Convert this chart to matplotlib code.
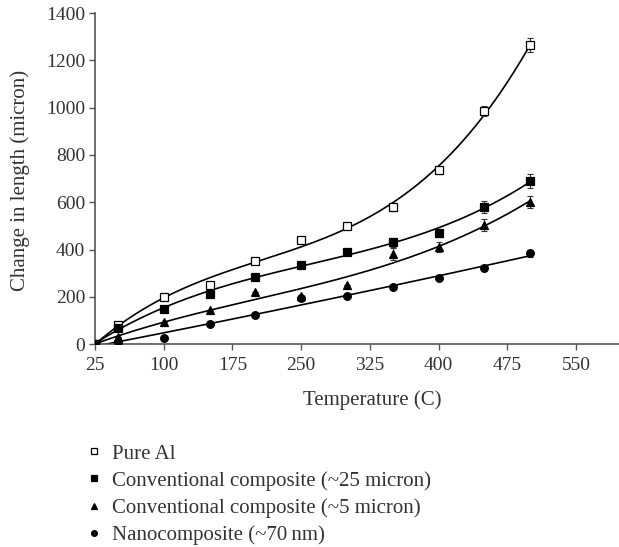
import numpy as np
from matplotlib import pyplot as plt

plt.rcParams['font.family'] = ['Liberation Serif', 'DejaVu Serif']

temps = [25, 50, 100, 150, 200, 250, 300, 350, 400, 450, 500]

pure_al = [0, 80, 200, 250, 350, 440, 500, 580, 735, 985, 1265]
conv_25 = [0, 70, 150, 210, 285, 335, 390, 430, 470, 580, 690]
conv_5 = [0, 30, 95, 145, 220, 205, 250, 380, 410, 505, 600]
nano = [0, 10, 25, 85, 125, 195, 205, 240, 280, 320, 385]

# error bars (only the visible ones at high temperature)
err_pure = [0, 0, 0, 0, 0, 0, 0, 15, 15, 20, 30]
err_c25 = [0, 0, 0, 0, 0, 0, 0, 20, 15, 25, 30]
err_c5 = [0, 0, 0, 0, 0, 0, 0, 25, 20, 25, 25]
err_nano = [0, 0, 0, 0, 0, 0, 0, 0, 5, 10, 15]

labels = ['Pure Al', 'Conventional composite (~25 micron)',
          'Conventional composite (~5 micron)', 'Nanocomposite (~70\u2009nm)']

series = [
    (pure_al, err_pure, 's', 'white', 3),
    (conv_25, err_c25, 's', 'black', 3),
    (conv_5, err_c5, '^', 'black', 3),
    (nano, err_nano, 'o', 'black', 2),
]

fig = plt.figure(figsize=(6.19, 5.47), dpi=100)
ax = fig.add_axes([0.1535, 0.371, 0.8465, 0.605])

handles = []
x = np.array(temps, dtype=float)
xs = np.linspace(25, 500, 200)
for (vals, errs, marker, face, deg), lab in zip(series, labels):
    # polynomial trend line through the data, as in the original
    coef = np.polyfit(x, vals, deg)
    ax.plot(xs, np.polyval(coef, xs), color='black', lw=1.2, zorder=2)
    ax.errorbar(x, vals, yerr=errs, fmt='none', ecolor='#333333',
                elinewidth=0.8, capsize=2.5, capthick=0.8, zorder=3)
    h, = ax.plot(x, vals, ls='none', marker=marker, markersize=5.5,
                 markerfacecolor=face, markeredgecolor='black',
                 markeredgewidth=0.9, zorder=4)
    handles.append(h)

ax.set_xlim(25, 597)
ax.set_ylim(0, 1400)
ax.set_xticks([25, 100, 175, 250, 325, 400, 475, 550])
ax.set_yticks(range(0, 1401, 200))
for s in ['top', 'right']:
    ax.spines[s].set_visible(False)
for s in ['left', 'bottom']:
    ax.spines[s].set_color('#555555')
    ax.spines[s].set_linewidth(1.2)
ax.tick_params(colors='#555555', labelcolor='#333333', labelsize=14,
               length=4, width=1)
ax.tick_params(axis='y', pad=3)
ax.tick_params(axis='x', pad=5)
ax.set_xlabel('Temperature (C)', fontsize=15, color='#333333')
ax.xaxis.set_label_coords(0.53, -0.139)
ax.set_ylabel('Change in length (micron)', fontsize=15, color='#333333')
ax.yaxis.set_label_coords(-0.124, 0.495)

fig.legend(handles, labels, loc='upper left', bbox_to_anchor=(0.136, 0.188),
           frameon=False, fontsize=15, handlelength=0.9, handletextpad=0.45,
           labelspacing=0.35, markerscale=0.75, labelcolor='#333333',
           borderaxespad=0, borderpad=0)

fig.savefig('out.png', dpi=100)
